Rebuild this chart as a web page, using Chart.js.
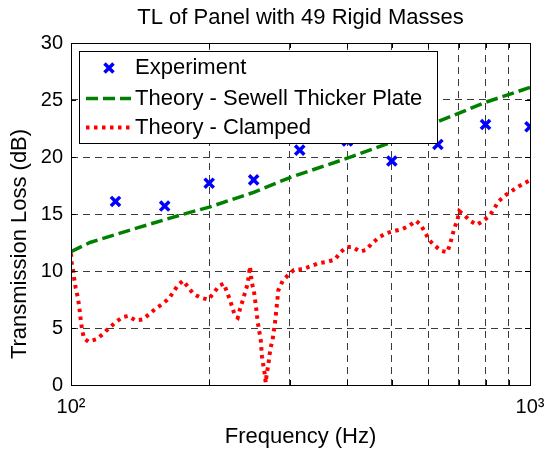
<!DOCTYPE html>
<html>
<head>
<meta charset="utf-8">
<script src="https://cdn.jsdelivr.net/npm/chart.js@4/dist/chart.umd.min.js"></script>
<style>
  html, body { margin: 0; padding: 0; background: #fff; }
  #wrap { width: 547px; height: 450px; }
</style>
</head>
<body>
<div id="wrap"><canvas id="tl"></canvas></div>
<script>
// measured third-octave results
const expFreq = [125, 160, 200, 250, 315, 400, 500, 630, 800, 1000];
const expTL = [16.1, 15.7, 17.7, 18.0, 20.6, 21.4, 19.65, 21.1, 22.85, 22.65];

// Sewell thicker plate theory
const sewellFreq = [100, 110, 125, 140, 160, 180, 200, 250, 300, 400, 500, 630, 800, 1000];
const sewellTL = [11.7, 12.5, 13.2, 13.8, 14.5, 15.1, 15.6, 16.9, 18.2, 19.9, 21.3, 23.1, 24.8, 26.1];

// clamped theory
const clampedFreq = [100, 100.4, 101.2, 101.7, 102.4, 103.4, 104.1, 104.6, 105.1, 105.8, 106.7, 109.1,
  113.4, 117.2, 121, 125.1, 129.4, 133.3, 138.4, 143.3, 147.9, 152.9, 158.1, 163.5, 167.7, 171.3,
  175.6, 180.2, 184.7, 191.7, 199.1, 204.9, 210.1, 215.4, 218.4, 222.1, 224.6, 227.7, 230.8, 233.4,
  236.6, 239.4, 242.7, 244, 245.5, 247.6, 250.4, 252.9, 255.2, 257.2, 259, 260.7, 262.4, 264.2, 265.6,
  266.9, 269.1, 270.4, 272.3, 275, 278.2, 280.6, 282.9, 289.3, 297.4, 306, 319, 334.5, 347, 360.6,
  375.9, 385.5, 398.7, 410.9, 426.2, 439.2, 452, 467.2, 484.9, 503.8, 525.3, 545, 564.5, 577.9,
  590.5, 603.4, 620.9, 642.2, 660.5, 669.5, 677.3, 684.1, 694.5, 701.5, 719.3, 740.3, 765.6, 791.3,
  818.3, 836, 856, 885.2, 915, 948, 983.5, 1000];
const clampedTL = [11.55, 10.7, 9.9, 9.2, 8.5, 7.75, 7.0, 6.3, 5.55, 4.8, 4.1, 3.8,
  4.0, 4.45, 5.0, 5.5, 5.95, 6.05, 5.65, 5.75, 6.2, 6.7, 7.1, 7.6, 8.25, 8.8,
  9.15, 8.55, 8.0, 7.65, 7.5, 8.1, 8.7, 8.9, 8.2, 7.45, 6.8, 6.05, 5.9, 6.65,
  7.4, 8.1, 8.9, 9.7, 10.4, 9.0, 8.2, 6.9, 5.5, 4.7, 3.95, 2.5, 1.75, 1.0, 0.2,
  1.0, 1.75, 2.5, 3.3, 4.0, 5.45, 6.85, 8.3, 9.15, 9.65, 10.1, 10.15, 10.45, 10.7, 10.8,
  11.0, 11.6, 12.1, 12.1, 11.7, 11.85, 12.4, 12.9, 13.3, 13.5, 13.65, 13.95, 14.4, 14.05,
  13.4, 12.7, 12.2, 11.75, 11.65, 12.35, 13.1, 13.75, 14.45, 15.25, 14.9, 14.4, 14.05, 14.4,
  14.9, 15.5, 16.15, 16.65, 17.05, 17.45, 17.8, 17.95];

const xTicks = [100, 200, 300, 400, 500, 600, 700, 800, 900, 1000];
const yTicks = [0, 5, 10, 15, 20, 25, 30];
const xTickLabels = { 100: '10\u00B2', 1000: '10\u00B3' };
const legendLabels = ['Experiment', 'Theory - Sewell Thicker Plate', 'Theory - Clamped'];

const FONT = 'Liberation Sans, Arial, sans-serif';
const pts = (xs, ys) => xs.map((x, i) => ({ x: x, y: ys[i] }));

// frame, inward ticks, titles and legend drawn on top
const decorations = {
  id: 'decorations',
  afterDraw(chart) {
    const { ctx, chartArea: a, scales } = chart;
    const xs = scales.x, ys = scales.y;
    ctx.save();
    ctx.strokeStyle = '#000';
    ctx.lineWidth = 1;
    ctx.setLineDash([]);
    ctx.beginPath();
    xTicks.forEach(v => {
      const px = Math.round(xs.getPixelForValue(v)) + 0.5;
      ctx.moveTo(px, a.bottom); ctx.lineTo(px, a.bottom - 5);
      ctx.moveTo(px, a.top); ctx.lineTo(px, a.top + 5);
    });
    yTicks.forEach(v => {
      const py = Math.round(ys.getPixelForValue(v)) + 0.5;
      ctx.moveTo(a.left, py); ctx.lineTo(a.left + 5, py);
      ctx.moveTo(a.right, py); ctx.lineTo(a.right - 5, py);
    });
    ctx.stroke();
    ctx.strokeRect(Math.round(a.left) + 0.5, Math.round(a.top) + 0.5,
      Math.round(a.right - a.left), Math.round(a.bottom - a.top));

    // titles
    ctx.fillStyle = '#000';
    ctx.font = '22px ' + FONT;
    ctx.textAlign = 'center';
    ctx.textBaseline = 'middle';
    ctx.fillText('TL of Panel with 49 Rigid Masses', (a.left + a.right) / 2, 18);
    ctx.fillText('Frequency (Hz)', (a.left + a.right) / 2, 437);
    ctx.save();
    ctx.translate(20, 244);
    ctx.rotate(-Math.PI / 2);
    ctx.fillText('Transmission Loss (dB)', 0, 0);
    ctx.restore();

    // legend box
    const bx = 79.5, by = 51.5, bw = 358, bh = 92;
    ctx.fillStyle = '#fff';
    ctx.fillRect(bx, by, bw, bh);
    ctx.strokeStyle = '#000';
    ctx.strokeRect(bx, by, bw, bh);
    const rows = [68, 98.5, 127.5];
    const ds = chart.data.datasets;
    const mx = 109, my = rows[0], r = 4.5;
    ctx.strokeStyle = ds[0].borderColor;
    ctx.lineWidth = ds[0].pointBorderWidth;
    ctx.beginPath();
    ctx.moveTo(mx - r, my - r); ctx.lineTo(mx + r, my + r);
    ctx.moveTo(mx - r, my + r); ctx.lineTo(mx + r, my - r);
    ctx.stroke();
    [1, 2].forEach(i => {
      ctx.strokeStyle = ds[i].borderColor;
      ctx.lineWidth = ds[i].borderWidth;
      ctx.setLineDash(ds[i].borderDash);
      ctx.beginPath();
      ctx.moveTo(86, rows[i]); ctx.lineTo(131, rows[i]);
      ctx.stroke();
    });
    ctx.setLineDash([]);
    ctx.fillStyle = '#000';
    ctx.textAlign = 'left';
    legendLabels.forEach((t, i) => ctx.fillText(t, 135, rows[i]));
    ctx.restore();
  }
};

const gridColor = (ctx, lo, hi) => {
  const v = ctx.tick ? ctx.tick.value : null;
  return (v === lo || v === hi) ? 'rgba(0,0,0,0)' : '#3a3a3a';
};

new Chart(document.getElementById('tl'), {
  type: 'line',
  data: {
    datasets: [
      {
        label: legendLabels[0],
        data: pts(expFreq, expTL),
        showLine: false,
        borderColor: '#0000ff',
        backgroundColor: '#0000ff',
        pointStyle: 'crossRot',
        pointRadius: 6.5,
        pointBorderWidth: 3.5
      },
      {
        label: legendLabels[1],
        data: pts(sewellFreq, sewellTL),
        borderColor: '#008000',
        borderWidth: 3.5,
        borderDash: [12, 5],
        pointRadius: 0,
        tension: 0,
        fill: false
      },
      {
        label: legendLabels[2],
        data: pts(clampedFreq, clampedTL),
        borderColor: '#ff0000',
        borderWidth: 4,
        borderDash: [3.5, 4.5],
        borderCapStyle: 'butt',
        pointRadius: 0,
        tension: 0,
        fill: false
      }
    ]
  },
  options: {
    responsive: true,
    maintainAspectRatio: false,
    animation: false,
    layout: { padding: { left: 0, right: 17, top: 43, bottom: 0 } },
    plugins: {
      legend: { display: false },
      tooltip: { enabled: false },
      title: { display: false }
    },
    scales: {
      x: {
        type: 'logarithmic',
        min: 100,
        max: 1000,
        afterBuildTicks: s => { s.ticks = xTicks.map(v => ({ value: v })); },
        afterFit: s => { s.height = 65; s.paddingLeft = 0; s.paddingRight = 0; },
        grid: { color: c => gridColor(c, 100, 1000), lineWidth: 1, drawTicks: false },
        border: { display: false, dash: [7, 5] },
        ticks: {
          autoSkip: false,
          maxRotation: 0,
          padding: 10,
          color: '#000',
          font: { family: FONT, size: 20 },
          callback: v => xTickLabels[v] || ''
        }
      },
      y: {
        min: 0,
        max: 30,
        afterBuildTicks: s => { s.ticks = yTicks.map(v => ({ value: v })); },
        afterFit: s => { s.width = 71; s.paddingTop = 0; s.paddingBottom = 0; },
        grid: { color: c => gridColor(c, 0, 30), lineWidth: 1, drawTicks: false },
        border: { display: false, dash: [7, 5] },
        ticks: {
          padding: 8,
          color: '#000',
          font: { family: FONT, size: 20 }
        }
      }
    }
  },
  plugins: [decorations]
});
</script>
</body>
</html>
